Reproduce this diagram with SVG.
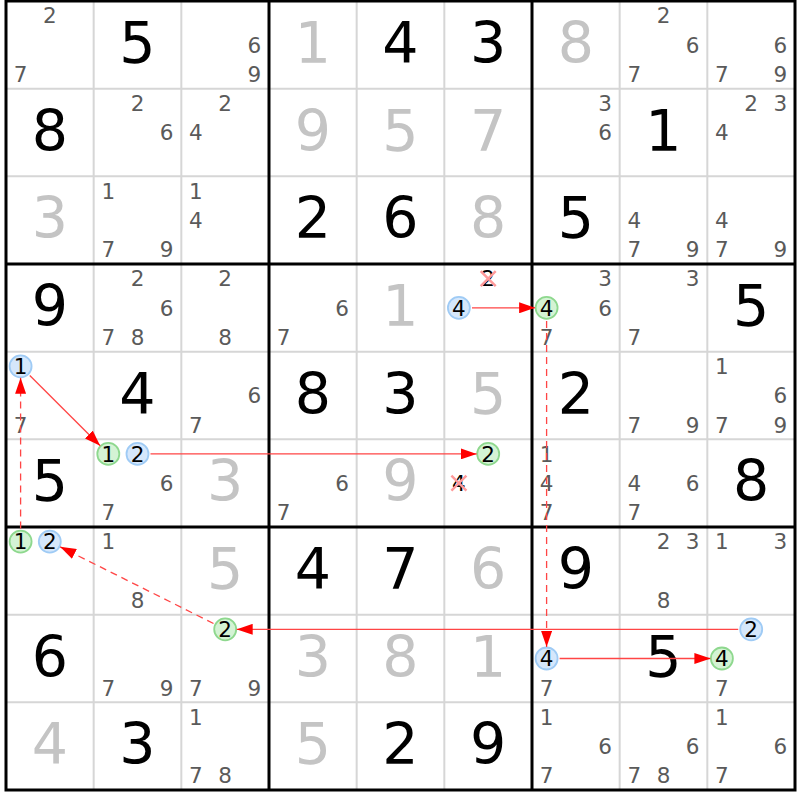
<svg xmlns="http://www.w3.org/2000/svg" width="800" height="800" viewBox="0 0 800 800">
<style>
.thin{stroke:#d6d6d6;stroke-width:2}
.thick{stroke:#000;stroke-width:3;fill:none}
text{font-family:"DejaVu Sans",Verdana,sans-serif;text-anchor:middle}
.s{font-size:57px;fill:#000}
.g{font-size:57px;fill:#c4c4c4}
.c{font-size:21.5px;fill:#5a5a5a}
.k{font-size:21.5px;fill:#000}
.bc{fill:#d5e7fb;stroke:#9fcbf5;stroke-width:1.8}
.gc{fill:#d4f3d4;stroke:#8ed88e;stroke-width:1.8}
.x{stroke:#ff9a9a;stroke-width:2.5}
.a{stroke:#ff4545;stroke-width:1.3;fill:none}
.d{stroke-dasharray:7 5}
</style>
<defs>
<marker id="ah" markerUnits="userSpaceOnUse" markerWidth="16" markerHeight="11" refX="16" refY="5.5" orient="auto">
<path d="M0,0 L16,5.5 L0,11 z" fill="#ff0000"/>
</marker>
</defs>
<rect x="0" y="0" width="800" height="800" fill="#fff"/>
<g id="grid">
<path class="thin" d="M93.67,1V790M181.33,1V790M356.67,1V790M444.33,1V790M619.67,1V790M707.33,1V790M6,88.67H795M6,176.33H795M6,351.67H795M6,439.33H795M6,614.67H795M6,702.33H795"/>
<path class="thick" d="M269,1V790M532,1V790M6,264H795M6,527H795"/>
<rect class="thick" x="6" y="1" width="789" height="789"/>
</g>
<g id="r0c0"><text class="c" x="49.8" y="23.4">2</text><text class="c" x="20.6" y="81.9">7</text></g>
<g id="r0c1"><text class="s" x="137.5" y="63">5</text></g>
<g id="r0c2"><text class="c" x="254.4" y="52.6">6</text><text class="c" x="254.4" y="81.9">9</text></g>
<g id="r0c3"><text class="g" x="312.8" y="63">1</text></g>
<g id="r0c4"><text class="s" x="400.5" y="63">4</text></g>
<g id="r0c5"><text class="s" x="488.2" y="63">3</text></g>
<g id="r0c6"><text class="g" x="575.8" y="63">8</text></g>
<g id="r0c7"><text class="c" x="663.5" y="23.4">2</text><text class="c" x="692.7" y="52.6">6</text><text class="c" x="634.3" y="81.9">7</text></g>
<g id="r0c8"><text class="c" x="780.4" y="52.6">6</text><text class="c" x="721.9" y="81.9">7</text><text class="c" x="780.4" y="81.9">9</text></g>

<g id="r1c0"><text class="s" x="49.8" y="150.7">8</text></g>
<g id="r1c1"><text class="c" x="137.5" y="111.1">2</text><text class="c" x="166.7" y="140.3">6</text></g>
<g id="r1c2"><text class="c" x="225.2" y="111.1">2</text><text class="c" x="195.9" y="140.3">4</text></g>
<g id="r1c3"><text class="g" x="312.8" y="150.7">9</text></g>
<g id="r1c4"><text class="g" x="400.5" y="150.7">5</text></g>
<g id="r1c5"><text class="g" x="488.2" y="150.7">7</text></g>
<g id="r1c6"><text class="c" x="605.1" y="111.1">3</text><text class="c" x="605.1" y="140.3">6</text></g>
<g id="r1c7"><text class="s" x="663.5" y="150.7">1</text></g>
<g id="r1c8"><text class="c" x="751.2" y="111.1">2</text><text class="c" x="780.4" y="111.1">3</text><text class="c" x="721.9" y="140.3">4</text></g>

<g id="r2c0"><text class="g" x="49.8" y="238.3">3</text></g>
<g id="r2c1"><text class="c" x="108.3" y="198.7">1</text><text class="c" x="108.3" y="257.2">7</text><text class="c" x="166.7" y="257.2">9</text></g>
<g id="r2c2"><text class="c" x="195.9" y="198.7">1</text><text class="c" x="195.9" y="228">4</text></g>
<g id="r2c3"><text class="s" x="312.8" y="238.3">2</text></g>
<g id="r2c4"><text class="s" x="400.5" y="238.3">6</text></g>
<g id="r2c5"><text class="g" x="488.2" y="238.3">8</text></g>
<g id="r2c6"><text class="s" x="575.8" y="238.3">5</text></g>
<g id="r2c7"><text class="c" x="634.3" y="228">4</text><text class="c" x="634.3" y="257.2">7</text><text class="c" x="692.7" y="257.2">9</text></g>
<g id="r2c8"><text class="c" x="721.9" y="228">4</text><text class="c" x="721.9" y="257.2">7</text><text class="c" x="780.4" y="257.2">9</text></g>

<g id="r3c0"><text class="s" x="49.8" y="326">9</text></g>
<g id="r3c1"><text class="c" x="137.5" y="286.4">2</text><text class="c" x="166.7" y="315.6">6</text><text class="c" x="108.3" y="344.9">7</text><text class="c" x="137.5" y="344.9">8</text></g>
<g id="r3c2"><text class="c" x="225.2" y="286.4">2</text><text class="c" x="225.2" y="344.9">8</text></g>
<g id="r3c3"><text class="c" x="342.1" y="315.6">6</text><text class="c" x="283.6" y="344.9">7</text></g>
<g id="r3c4"><text class="g" x="400.5" y="326">1</text></g>
<g id="r3c5"><text class="k" x="488.2" y="286.4">2</text><path class="x" d="M480.7,271.1L495.7,286.1M495.7,271.1L480.7,286.1"/><circle class="bc" cx="458.9" cy="307.8" r="11"/><text class="k" x="458.9" y="315.6">4</text></g>
<g id="r3c6"><text class="c" x="605.1" y="286.4">3</text><circle class="gc" cx="546.6" cy="307.8" r="11"/><text class="k" x="546.6" y="315.6">4</text><text class="c" x="605.1" y="315.6">6</text><text class="c" x="546.6" y="344.9">7</text></g>
<g id="r3c7"><text class="c" x="692.7" y="286.4">3</text><text class="c" x="634.3" y="344.9">7</text></g>
<g id="r3c8"><text class="s" x="751.2" y="326">5</text></g>

<g id="r4c0"><circle class="bc" cx="20.6" cy="366.3" r="11"/><text class="k" x="20.6" y="374.1">1</text><text class="c" x="20.6" y="432.5">7</text></g>
<g id="r4c1"><text class="s" x="137.5" y="413.7">4</text></g>
<g id="r4c2"><text class="c" x="254.4" y="403.3">6</text><text class="c" x="195.9" y="432.5">7</text></g>
<g id="r4c3"><text class="s" x="312.8" y="413.7">8</text></g>
<g id="r4c4"><text class="s" x="400.5" y="413.7">3</text></g>
<g id="r4c5"><text class="g" x="488.2" y="413.7">5</text></g>
<g id="r4c6"><text class="s" x="575.8" y="413.7">2</text></g>
<g id="r4c7"><text class="c" x="634.3" y="432.5">7</text><text class="c" x="692.7" y="432.5">9</text></g>
<g id="r4c8"><text class="c" x="721.9" y="374.1">1</text><text class="c" x="780.4" y="403.3">6</text><text class="c" x="721.9" y="432.5">7</text><text class="c" x="780.4" y="432.5">9</text></g>

<g id="r5c0"><text class="s" x="49.8" y="501.3">5</text></g>
<g id="r5c1"><circle class="gc" cx="108.3" cy="453.9" r="11"/><text class="k" x="108.3" y="461.7">1</text><circle class="bc" cx="137.5" cy="453.9" r="11"/><text class="k" x="137.5" y="461.7">2</text><text class="c" x="166.7" y="491">6</text><text class="c" x="108.3" y="520.2">7</text></g>
<g id="r5c2"><text class="g" x="225.2" y="501.3">3</text></g>
<g id="r5c3"><text class="c" x="342.1" y="491">6</text><text class="c" x="283.6" y="520.2">7</text></g>
<g id="r5c4"><text class="g" x="400.5" y="501.3">9</text></g>
<g id="r5c5"><circle class="gc" cx="488.2" cy="453.9" r="11"/><text class="k" x="488.2" y="461.7">2</text><text class="k" x="458.9" y="491">4</text><path class="x" d="M451.4,475.7L466.4,490.7M466.4,475.7L451.4,490.7"/></g>
<g id="r5c6"><text class="c" x="546.6" y="461.7">1</text><text class="c" x="546.6" y="491">4</text><text class="c" x="546.6" y="520.2">7</text></g>
<g id="r5c7"><text class="c" x="634.3" y="491">4</text><text class="c" x="692.7" y="491">6</text><text class="c" x="634.3" y="520.2">7</text></g>
<g id="r5c8"><text class="s" x="751.2" y="501.3">8</text></g>

<g id="r6c0"><circle class="gc" cx="20.6" cy="541.6" r="11"/><text class="k" x="20.6" y="549.4">1</text><circle class="bc" cx="49.8" cy="541.6" r="11"/><text class="k" x="49.8" y="549.4">2</text></g>
<g id="r6c1"><text class="c" x="108.3" y="549.4">1</text><text class="c" x="137.5" y="607.9">8</text></g>
<g id="r6c2"><text class="g" x="225.2" y="589">5</text></g>
<g id="r6c3"><text class="s" x="312.8" y="589">4</text></g>
<g id="r6c4"><text class="s" x="400.5" y="589">7</text></g>
<g id="r6c5"><text class="g" x="488.2" y="589">6</text></g>
<g id="r6c6"><text class="s" x="575.8" y="589">9</text></g>
<g id="r6c7"><text class="c" x="663.5" y="549.4">2</text><text class="c" x="692.7" y="549.4">3</text><text class="c" x="663.5" y="607.9">8</text></g>
<g id="r6c8"><text class="c" x="721.9" y="549.4">1</text><text class="c" x="780.4" y="549.4">3</text></g>

<g id="r7c0"><text class="s" x="49.8" y="676.7">6</text></g>
<g id="r7c1"><text class="c" x="108.3" y="695.5">7</text><text class="c" x="166.7" y="695.5">9</text></g>
<g id="r7c2"><circle class="gc" cx="225.2" cy="629.3" r="11"/><text class="k" x="225.2" y="637.1">2</text><text class="c" x="195.9" y="695.5">7</text><text class="c" x="254.4" y="695.5">9</text></g>
<g id="r7c3"><text class="g" x="312.8" y="676.7">3</text></g>
<g id="r7c4"><text class="g" x="400.5" y="676.7">8</text></g>
<g id="r7c5"><text class="g" x="488.2" y="676.7">1</text></g>
<g id="r7c6"><circle class="bc" cx="546.6" cy="658.5" r="11"/><text class="k" x="546.6" y="666.3">4</text><text class="c" x="546.6" y="695.5">7</text></g>
<g id="r7c7"><text class="s" x="663.5" y="676.7">5</text></g>
<g id="r7c8"><circle class="bc" cx="751.2" cy="629.3" r="11"/><text class="k" x="751.2" y="637.1">2</text><circle class="gc" cx="721.9" cy="658.5" r="11"/><text class="k" x="721.9" y="666.3">4</text><text class="c" x="721.9" y="695.5">7</text></g>

<g id="r8c0"><text class="g" x="49.8" y="764.3">4</text></g>
<g id="r8c1"><text class="s" x="137.5" y="764.3">3</text></g>
<g id="r8c2"><text class="c" x="195.9" y="724.7">1</text><text class="c" x="195.9" y="783.2">7</text><text class="c" x="225.2" y="783.2">8</text></g>
<g id="r8c3"><text class="g" x="312.8" y="764.3">5</text></g>
<g id="r8c4"><text class="s" x="400.5" y="764.3">2</text></g>
<g id="r8c5"><text class="s" x="488.2" y="764.3">9</text></g>
<g id="r8c6"><text class="c" x="546.6" y="724.7">1</text><text class="c" x="605.1" y="754">6</text><text class="c" x="546.6" y="783.2">7</text></g>
<g id="r8c7"><text class="c" x="692.7" y="754">6</text><text class="c" x="634.3" y="783.2">7</text><text class="c" x="663.5" y="783.2">8</text></g>
<g id="r8c8"><text class="c" x="721.9" y="724.7">1</text><text class="c" x="780.4" y="754">6</text><text class="c" x="721.9" y="783.2">7</text></g>

<g id="connectors">
<line class="a" x1="472" y1="307.8" x2="535.1" y2="307.8" marker-end="url(#ah)"/>
<line class="a d" x1="546.6" y1="321" x2="546.6" y2="647" marker-end="url(#ah)"/>
<line class="a" x1="559.6" y1="658.5" x2="710.4" y2="658.5" marker-end="url(#ah)"/>
<line class="a" x1="738.2" y1="629.3" x2="236.7" y2="629.3" marker-end="url(#ah)"/>
<line class="a d" x1="213.5" y1="623.5" x2="60.1" y2="546.8" marker-end="url(#ah)"/>
<line class="a d" x1="20.6" y1="528.6" x2="20.6" y2="377.8" marker-end="url(#ah)"/>
<line class="a" x1="29.8" y1="375.5" x2="100.2" y2="445.8" marker-end="url(#ah)"/>
<line class="a" x1="150.5" y1="453.9" x2="476.7" y2="453.9" marker-end="url(#ah)"/>
</g>
</svg>
